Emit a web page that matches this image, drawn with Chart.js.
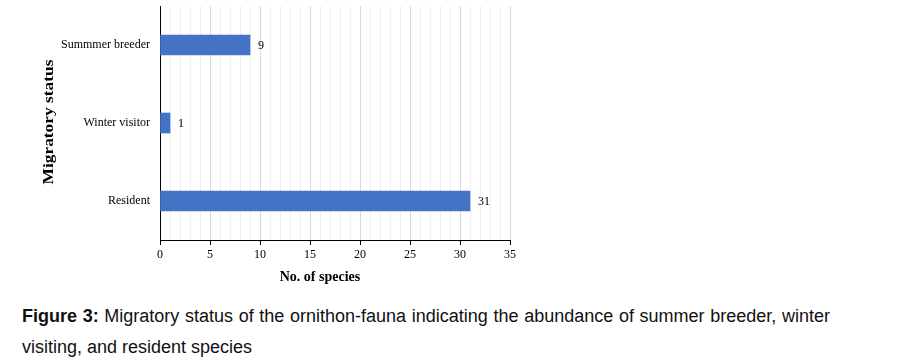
<!DOCTYPE html>
<html>
<head>
<meta charset="utf-8">
<script src="https://cdn.jsdelivr.net/npm/chart.js@4"></script>
<style>
  body { margin: 0; background: #fff; width: 908px; height: 362px; overflow: hidden; position: relative; }
  #wrap { position: absolute; left: 0; top: 0; width: 530px; height: 290px; }
  .cap { position: absolute; left: 22px; width: 808px; font-family: "Liberation Sans Narrow", "Liberation Sans", sans-serif; font-size: 18px; color: #111; white-space: nowrap; }
  #l1 { top: 306px; text-align: justify; text-align-last: justify; }
  #l2 { top: 337px; }
</style>
</head>
<body>
<div id="wrap"><canvas id="chartArea"></canvas></div>
<div class="cap" id="l1"><b>Figure 3:</b> Migratory status of the ornithon-fauna indicating the abundance of summer breeder, winter</div>
<div class="cap" id="l2">visiting, and resident species</div>
<script>
'use strict'
// data
const categories = ['Summmer breeder', 'Winter visitor', 'Resident'];
const speciesCounts = [9, 1, 31];
const axisMin = 0;
const axisMax = 35;

const serif = '"Liberation Serif", "Times New Roman", serif';

// value written just past the end of each bar
const barValueLabels = {
    id: 'barValueLabels',
    afterDatasetsDraw(chart) {
        let ctx = chart.ctx;
        let meta = chart.getDatasetMeta(0);
        ctx.save();
        ctx.font = '12px ' + serif;
        ctx.fillStyle = '#000';
        ctx.textBaseline = 'middle';
        meta.data.forEach(function(bar, i) {
            ctx.fillText(String(speciesCounts[i]), bar.x + 8, bar.y + 1);
        });
        ctx.restore();
    }
};

// axis titles drawn by hand: the y one is stretched and the x one sits left of centre in the original
const axisTitles = {
    id: 'axisTitles',
    afterDraw(chart) {
        let ctx = chart.ctx;
        let area = chart.chartArea;
        ctx.save();
        ctx.font = 'bold 14px ' + serif;
        ctx.fillStyle = '#000';
        ctx.textAlign = 'center';
        ctx.textBaseline = 'middle';
        ctx.fillText('No. of species', 320, 277);

        ctx.translate(49, (area.top + area.bottom) / 2 - 1);
        ctx.rotate(-Math.PI / 2);
        ctx.scale(1.24, 1);
        ctx.fillText('Migratory status', 0, 0);
        ctx.restore();
    }
};

let ctx = document.getElementById('chartArea').getContext('2d');
let chart = new Chart(ctx, {
    type: 'bar',
    data: {
        labels: categories,
        datasets: [{
            data: speciesCounts,
            backgroundColor: '#4472c4',
            barThickness: 20
        }]
    },
    options: {
        indexAxis: 'y',
        responsive: true,
        maintainAspectRatio: false,
        animation: false,
        layout: { padding: { top: 6, right: 20, left: 0, bottom: 0 } },
        plugins: {
            legend: { display: false },
            tooltip: { enabled: false }
        },
        scales: {
            x: {
                min: axisMin,
                max: axisMax,
                ticks: {
                    stepSize: 1,
                    autoSkip: false,
                    maxRotation: 0,
                    padding: 3,
                    color: '#000',
                    font: { family: serif, size: 12 },
                    callback: function(v) { return v % 5 === 0 ? v : ''; }
                },
                grid: {
                    color: function(c) { return c.tick && c.tick.value % 5 === 0 ? '#d9d9d9' : '#efefef'; },
                    tickColor: function(c) { return c.tick && c.tick.value % 5 === 0 ? '#000' : 'rgba(0,0,0,0)'; },
                    tickLength: 5
                },
                border: { color: '#000', width: 1 },
                afterFit: function(scale) { scale.height = 50; }
            },
            y: {
                ticks: {
                    color: '#000',
                    padding: 10,
                    font: { family: serif, size: 12 }
                },
                grid: { color: 'rgba(0,0,0,0)', drawTicks: false },
                border: { color: '#000', width: 1 },
                afterFit: function(scale) {
                    scale.width = 160;
                    scale.paddingTop = 0;
                    scale.paddingBottom = 0;
                }
            }
        }
    },
    plugins: [barValueLabels, axisTitles]
});
</script>
</body>
</html>
